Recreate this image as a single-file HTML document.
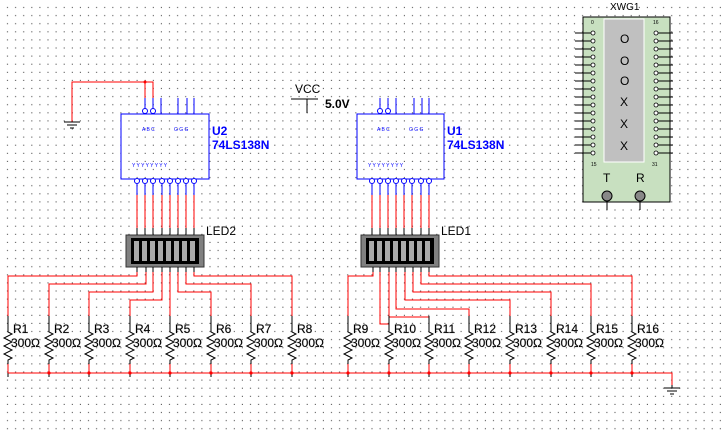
<!DOCTYPE html>
<html><head><meta charset="utf-8"><style>
html,body{margin:0;padding:0;background:#fff}
svg{display:block}
text{font-family:"Liberation Sans",sans-serif}
.r{fill:none;stroke:#f00;stroke-width:1}
.b{fill:none;stroke:#00f;stroke-width:1}
.k{fill:none;stroke:#000;stroke-width:1}
.tiny{font-size:5px;fill:#00f}
.lbl{font-size:12px;fill:#000;paint-order:stroke;stroke:#bbb;stroke-width:0.6}
.bl{font-size:12px;fill:#00f;font-weight:bold}
</style></head><body>
<svg width="723" height="434" viewBox="0 0 723 434" xmlns="http://www.w3.org/2000/svg">
<defs>
<pattern id="g" x="0" y="0" width="8.1" height="8.1" patternUnits="userSpaceOnUse"><rect x="7" y="7" width="1" height="1" fill="#333"/></pattern>
<g id="zz"><path class="k" d="M0,0 v16 l4,2 l-8,4 l8,4 l-8,4 l8,4 l-8,4 l8,4 l-4,2 v17"/></g>
</defs>
<rect width="723" height="434" fill="url(#g)"/>

<path class="r" d="M72,122 V82 H145 M145,82 H153 V111 M145,82 V111"/>
<circle cx="145" cy="82" r="1.5" fill="#f00"/>
<path class="k" d="M64,122 H80 M67,125 H77 M70,128 H74"/>

<rect x="121" y="114" width="88" height="65" fill="none" stroke="#00f"/>
<path class="b" d="M145,98 V108 M153,98 V108 M161,98 V114 M178,98 V114 M187,98 V114 M194,98 V114"/>
<circle cx="145" cy="111" r="2.5" fill="#fff" stroke="#00f"/><circle cx="153" cy="111" r="2.5" fill="#fff" stroke="#00f"/>
<text class="tiny" x="142" y="131">A B C</text><text class="tiny" x="174" y="131">G G G</text>
<text class="tiny" x="132" y="167">Y Y Y Y Y Y Y Y</text>
<text class="bl" x="212" y="135">U2</text><text class="bl" x="212" y="149">74LS138N</text>
<path class="b" d="M137,184 V195 M145,184 V195 M153,184 V195 M162,184 V195 M170,184 V195 M178,184 V195 M186,184 V195 M194,184 V195"/>
<g fill="#fff" stroke="#00f"><circle cx="137" cy="181" r="2.5"/><circle cx="145" cy="181" r="2.5"/><circle cx="153" cy="181" r="2.5"/><circle cx="162" cy="181" r="2.5"/><circle cx="170" cy="181" r="2.5"/><circle cx="178" cy="181" r="2.5"/><circle cx="186" cy="181" r="2.5"/><circle cx="194" cy="181" r="2.5"/></g>
<path class="r" d="M137,195 V228 M145,195 V228 M153,195 V228 M162,195 V228 M170,195 V228 M178,195 V228 M186,195 V228 M194,195 V228"/>
<path class="k" d="M137,228 V235 M145,228 V235 M153,228 V235 M162,228 V235 M170,228 V235 M178,228 V235 M186,228 V235 M194,228 V235"/>
<rect x="126" y="235" width="78" height="32" fill="#808080" stroke="#333"/>
<rect x="131" y="238" width="68" height="26" fill="#000"/>
<g fill="#aaa"><rect x="134" y="241" width="5" height="20"/><rect x="142" y="241" width="5" height="20"/><rect x="150" y="241" width="5" height="20"/><rect x="158" y="241" width="5" height="20"/><rect x="166" y="241" width="5" height="20"/><rect x="174" y="241" width="5" height="20"/><rect x="182" y="241" width="5" height="20"/><rect x="190" y="241" width="5" height="20"/></g>
<text x="206" y="235" style="font-size:12px">LED2</text>

<text x="295" y="93" style="font-size:12px">VCC</text>
<path class="k" d="M291,99 H318 M307,99 V113"/>
<text x="325" y="108" style="font-size:12px;font-weight:bold">5.0V</text>

<rect x="357" y="114" width="87" height="65" fill="none" stroke="#00f"/>
<path class="b" d="M380,98 V108 M388,98 V108 M396,98 V114 M414,98 V114 M422,98 V114 M429,98 V114"/>
<circle cx="380" cy="111" r="2.5" fill="#fff" stroke="#00f"/><circle cx="388" cy="111" r="2.5" fill="#fff" stroke="#00f"/>
<text class="tiny" x="377" y="131">A B C</text><text class="tiny" x="409" y="131">G G G</text>
<text class="tiny" x="368" y="167">Y Y Y Y Y Y Y Y</text>
<text class="bl" x="447" y="135">U1</text><text class="bl" x="447" y="149">74LS138N</text>
<path class="b" d="M372,184 V195 M380,184 V195 M388,184 V195 M396,184 V195 M404,184 V195 M412,184 V195 M421,184 V195 M429,184 V195"/>
<g fill="#fff" stroke="#00f"><circle cx="372" cy="181" r="2.5"/><circle cx="380" cy="181" r="2.5"/><circle cx="388" cy="181" r="2.5"/><circle cx="396" cy="181" r="2.5"/><circle cx="404" cy="181" r="2.5"/><circle cx="412" cy="181" r="2.5"/><circle cx="421" cy="181" r="2.5"/><circle cx="429" cy="181" r="2.5"/></g>
<path class="r" d="M372,195 V228 M380,195 V228 M388,195 V228 M396,195 V228 M404,195 V228 M412,195 V228 M421,195 V228 M429,195 V228"/>
<path class="k" d="M372,228 V235 M380,228 V235 M388,228 V235 M396,228 V235 M404,228 V235 M412,228 V235 M421,228 V235 M429,228 V235"/>
<rect x="361" y="235" width="78" height="32" fill="#808080" stroke="#333"/>
<rect x="366" y="238" width="68" height="26" fill="#000"/>
<g fill="#aaa"><rect x="369" y="241" width="5" height="20"/><rect x="377" y="241" width="5" height="20"/><rect x="385" y="241" width="5" height="20"/><rect x="393" y="241" width="5" height="20"/><rect x="401" y="241" width="5" height="20"/><rect x="409" y="241" width="5" height="20"/><rect x="417" y="241" width="5" height="20"/><rect x="425" y="241" width="5" height="20"/></g>
<text x="441" y="235" style="font-size:12px">LED1</text>

<path class="k" d="M137,267 V272 M146,267 V272 M153,267 V272 M162,267 V272 M170,267 V272 M178,267 V272 M186,267 V272 M194,267 V272 M373,267 V272 M380,267 V272 M389,267 V272 M396,267 V272 M405,267 V272 M413,267 V272 M421,267 V272 M429,267 V272"/>
<path class="r" d="M137,272 V276 H8 V328 M146,272 V284 H49 V328 M153,272 V292 H89 V328 M162,272 V300 H130 V328 M170,272 V328 M178,272 V292 H211 V328 M186,272 V284 H251 V328 M194,272 V276 H292 V328"/>
<path class="r" d="M373,272 V276 H348 V328 M380,272 V324 H389 V328 M389,272 V317 H429 V328 M396,272 V309 H469 V328 M405,272 V300 H510 V328 M413,272 V292 H551 V328 M421,272 V284 H591 V328 M429,272 V276 H632 V328"/>

<use href="#zz" x="8" y="316"/><use href="#zz" x="49" y="316"/><use href="#zz" x="89" y="316"/><use href="#zz" x="130" y="316"/><use href="#zz" x="170" y="316"/><use href="#zz" x="211" y="316"/><use href="#zz" x="251" y="316"/><use href="#zz" x="292" y="316"/>
<use href="#zz" x="348" y="316"/><use href="#zz" x="389" y="316"/><use href="#zz" x="429" y="316"/><use href="#zz" x="469" y="316"/><use href="#zz" x="510" y="316"/><use href="#zz" x="551" y="316"/><use href="#zz" x="591" y="316"/><use href="#zz" x="632" y="316"/>
<path class="r" d="M8,364 V373 M49,364 V373 M89,364 V373 M130,364 V373 M170,364 V373 M211,364 V373 M251,364 V373 M292,364 V373 M348,364 V373 M389,364 V373 M429,364 V373 M469,364 V373 M510,364 V373 M551,364 V373 M591,364 V373 M632,364 V373"/>
<path class="r" d="M8,373 H672 V385"/>
<g fill="#f00"><circle cx="49" cy="373" r="1.6"/><circle cx="89" cy="373" r="1.6"/><circle cx="130" cy="373" r="1.6"/><circle cx="170" cy="373" r="1.6"/><circle cx="211" cy="373" r="1.6"/><circle cx="251" cy="373" r="1.6"/><circle cx="292" cy="373" r="1.6"/><circle cx="348" cy="373" r="1.6"/><circle cx="389" cy="373" r="1.6"/><circle cx="429" cy="373" r="1.6"/><circle cx="469" cy="373" r="1.6"/><circle cx="510" cy="373" r="1.6"/><circle cx="551" cy="373" r="1.6"/><circle cx="591" cy="373" r="1.6"/><circle cx="632" cy="373" r="1.6"/></g>
<path class="k" d="M672,385 V388 M664,388 H680 M667,391 H677 M670,394 H674"/>

<g class="lbl">
<text x="13" y="333">R1</text><text x="11" y="347">300Ω</text>
<text x="54" y="333">R2</text><text x="52" y="347">300Ω</text>
<text x="94" y="333">R3</text><text x="92" y="347">300Ω</text>
<text x="135" y="333">R4</text><text x="133" y="347">300Ω</text>
<text x="175" y="333">R5</text><text x="173" y="347">300Ω</text>
<text x="216" y="333">R6</text><text x="214" y="347">300Ω</text>
<text x="256" y="333">R7</text><text x="254" y="347">300Ω</text>
<text x="297" y="333">R8</text><text x="295" y="347">300Ω</text>
<text x="353" y="333">R9</text><text x="351" y="347">300Ω</text>
<text x="394" y="333">R10</text><text x="392" y="347">300Ω</text>
<text x="434" y="333">R11</text><text x="432" y="347">300Ω</text>
<text x="474" y="333">R12</text><text x="472" y="347">300Ω</text>
<text x="515" y="333">R13</text><text x="513" y="347">300Ω</text>
<text x="556" y="333">R14</text><text x="554" y="347">300Ω</text>
<text x="596" y="333">R15</text><text x="594" y="347">300Ω</text>
<text x="637" y="333">R16</text><text x="635" y="347">300Ω</text>
</g>

<text x="610" y="10" style="font-size:10px">XWG1</text>
<rect x="583" y="17" width="87" height="185" fill="#c8e0c0" stroke="#000"/>
<rect x="604" y="19" width="40" height="143" fill="#c0c0c0" stroke="#fff"/>
<g style="font-size:12px"><text x="620" y="43">O</text><text x="620" y="65">O</text><text x="620" y="85">O</text><text x="620" y="106">X</text><text x="620" y="128">X</text><text x="620" y="150">X</text></g>
<g style="font-size:5px"><text x="591" y="24">0</text><text x="653" y="24">16</text><text x="591" y="166">15</text><text x="652" y="166">31</text></g>
<path class="k" d="M575,33 H591 M575,41 H591 M575,49 H591 M575,57 H591 M575,65 H591 M575,73 H591 M575,81 H591 M575,89 H591 M575,97 H591 M575,105 H591 M575,113 H591 M575,121 H591 M575,129 H591 M575,137 H591 M575,145 H591 M575,153 H591"/>
<path class="k" d="M658,33 H673 M658,41 H673 M658,49 H673 M658,57 H673 M658,65 H673 M658,73 H673 M658,81 H673 M658,89 H673 M658,97 H673 M658,105 H673 M658,113 H673 M658,121 H673 M658,129 H673 M658,137 H673 M658,145 H673 M658,153 H673"/>
<g fill="#fff" stroke="#000" stroke-width="0.8">
<circle cx="593" cy="33" r="2"/><circle cx="593" cy="41" r="2"/><circle cx="593" cy="49" r="2"/><circle cx="593" cy="57" r="2"/><circle cx="593" cy="65" r="2"/><circle cx="593" cy="73" r="2"/><circle cx="593" cy="81" r="2"/><circle cx="593" cy="89" r="2"/><circle cx="593" cy="97" r="2"/><circle cx="593" cy="105" r="2"/><circle cx="593" cy="113" r="2"/><circle cx="593" cy="121" r="2"/><circle cx="593" cy="129" r="2"/><circle cx="593" cy="137" r="2"/><circle cx="593" cy="145" r="2"/><circle cx="593" cy="153" r="2"/>
<circle cx="656" cy="33" r="2"/><circle cx="656" cy="41" r="2"/><circle cx="656" cy="49" r="2"/><circle cx="656" cy="57" r="2"/><circle cx="656" cy="65" r="2"/><circle cx="656" cy="73" r="2"/><circle cx="656" cy="81" r="2"/><circle cx="656" cy="89" r="2"/><circle cx="656" cy="97" r="2"/><circle cx="656" cy="105" r="2"/><circle cx="656" cy="113" r="2"/><circle cx="656" cy="121" r="2"/><circle cx="656" cy="129" r="2"/><circle cx="656" cy="137" r="2"/><circle cx="656" cy="145" r="2"/><circle cx="656" cy="153" r="2"/>
</g>
<text x="603" y="182" style="font-size:12px">T</text><text x="636" y="182" style="font-size:12px">R</text>
<path class="k" d="M607,196 V210 M640,196 V210"/>
<circle cx="607" cy="196" r="5" fill="#888" stroke="#000"/><circle cx="640" cy="196" r="5" fill="#888" stroke="#000"/>
</svg>
</body></html>
